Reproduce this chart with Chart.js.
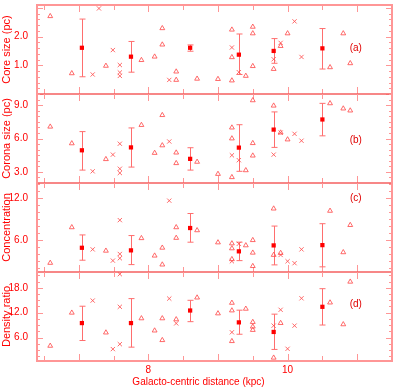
<!DOCTYPE html>
<html>
<head>
<meta charset="utf-8">
<script src="https://cdn.jsdelivr.net/npm/chart.js@4.4.0/dist/chart.umd.min.js"></script>
<style>
html, body { margin: 0; padding: 0; background: #fff; }
</style>
</head>
<body>
<canvas id="plot" width="397" height="389"></canvas>
<script>
// x axis
const xTicks = [8, 10];

// (a) core size (pc)
const coreTicks = [1.0, 2.0];
const coreTriX = [6.59, 6.90, 7.39, 7.90, 8.09, 8.20, 8.20, 8.40, 8.40, 8.70, 9.00, 9.20, 9.20, 9.20, 9.40, 9.50, 9.50, 9.50, 9.80, 9.90, 10.00, 10.61, 10.80, 10.90];
const coreTriY = [2.71, 0.72, 0.98, 1.18, 1.30, 2.29, 1.72, 0.78, 0.49, 0.53, 0.52, 2.24, 1.28, 0.47, 0.63, 2.34, 2.11, 0.97, 0.87, 1.67, 2.11, 0.93, 2.11, 1.07];
const coreCrossX = [7.20, 7.29, 7.49, 7.59, 7.59, 7.59, 8.30, 9.20, 9.30, 9.80, 9.90, 10.10, 10.20];
const coreCrossY = [0.68, 2.98, 1.53, 1.01, 0.75, 0.63, 0.49, 1.62, 0.76, 1.21, 1.78, 2.53, 1.29];
const coreErrX = [7.045, 7.75, 8.60, 9.30, 9.80, 10.50];
const coreErrY = [1.61, 1.30, 1.61, 1.37, 1.50, 1.59];
const coreErrLo = [0.60, 0.76, 1.49, 0.68, 1.07, 0.87];
const coreErrHi = [2.61, 1.83, 1.71, 2.09, 1.93, 2.28];

// (b) corona size (pc)
const coronaTicks = [3.0, 6.0, 9.0];
const coronaTriX = [6.59, 6.90, 7.39, 7.90, 8.09, 8.20, 8.20, 8.40, 8.40, 8.70, 9.00, 9.20, 9.20, 9.20, 9.40, 9.50, 9.50, 9.50, 9.80, 9.90, 10.00, 10.61, 10.80, 10.90];
const coronaTriY = [7.06, 5.56, 4.14, 7.21, 4.70, 8.10, 5.38, 4.73, 3.78, 3.90, 2.81, 6.98, 6.00, 2.52, 3.14, 9.43, 5.58, 4.46, 8.95, 6.53, 5.91, 9.16, 8.69, 8.51];
const coronaCrossX = [7.20, 7.49, 7.59, 7.59, 7.59, 8.30, 9.20, 9.30, 9.80, 9.90, 10.10, 10.20];
const coronaCrossY = [3.05, 4.55, 5.53, 3.28, 2.90, 5.73, 4.49, 4.05, 4.55, 6.53, 6.42, 5.80];
const coronaErrX = [7.045, 7.75, 8.60, 9.30, 9.80, 10.50];
const coronaErrY = [4.94, 5.20, 4.17, 5.18, 6.80, 7.71];
const coronaErrLo = [3.16, 3.43, 3.16, 3.05, 5.20, 6.24];
const coronaErrHi = [6.62, 6.95, 5.17, 7.24, 8.39, 9.16];

// (c) concentration
const concTicks = [6.0, 12.0];
const concTriX = [6.59, 6.90, 7.39, 7.90, 8.09, 8.20, 8.20, 8.40, 8.40, 8.70, 9.00, 9.20, 9.20, 9.20, 9.40, 9.50, 9.50, 9.50, 9.80, 9.80, 9.90, 10.61, 10.80, 10.90];
const concTriY = [2.70, 7.80, 4.44, 6.24, 3.74, 4.87, 2.46, 7.80, 6.28, 7.37, 5.63, 5.49, 4.78, 3.23, 5.21, 5.96, 4.16, 2.24, 10.48, 3.84, 4.12, 10.16, 4.22, 8.12];
const concCrossX = [7.20, 7.49, 7.59, 7.59, 7.59, 8.30, 9.20, 9.30, 9.90, 10.00, 10.10, 10.20];
const concCrossY = [4.64, 3.03, 8.83, 3.98, 3.37, 11.62, 2.94, 5.44, 3.84, 2.94, 2.66, 4.64];
const concErrX = [7.045, 7.75, 8.60, 9.30, 9.80, 10.50];
const concErrY = [4.87, 4.50, 7.70, 4.36, 5.21, 5.25];
const concErrLo = [3.09, 2.46, 5.67, 3.03, 2.42, 2.14];
const concErrHi = [6.71, 6.62, 9.78, 5.67, 7.98, 8.32];

// (d) density ratio
const densTicks = [6.0, 12.0, 18.0];
const densTriX = [6.59, 6.90, 7.39, 7.90, 8.09, 8.20, 8.20, 8.40, 8.70, 9.00, 9.20, 9.20, 9.20, 9.40, 9.50, 9.50, 9.50, 9.80, 9.90, 10.61, 10.80, 10.90];
const densTriY = [4.00, 11.98, 7.20, 10.62, 7.68, 10.62, 5.37, 10.38, 15.63, 11.81, 14.36, 12.52, 5.13, 12.93, 9.74, 8.63, 7.82, 1.14, 9.49, 14.43, 9.18, 19.45];
const densCrossX = [7.20, 7.49, 7.59, 7.59, 7.59, 8.30, 8.40, 9.20, 9.80, 9.90, 10.00, 10.10, 10.20];
const densCrossY = [14.91, 3.22, 21.28, 13.41, 4.41, 15.39, 9.42, 7.27, 8.87, 12.69, 3.29, 8.87, 15.46];
const densErrX = [7.045, 7.75, 8.60, 9.30, 9.80, 10.50];
const densErrY = [9.49, 9.49, 12.52, 9.66, 7.35, 13.41];
const densErrLo = [5.29, 3.69, 9.83, 6.80, 3.14, 9.02];
const densErrHi = [13.55, 15.39, 14.98, 12.60, 11.64, 17.78];

const red = '#ff0000';
const markColor = 'rgba(255,80,80,0.85)';
const barColor = 'rgb(255,110,110)';
const frameColor = 'rgb(255,150,150)';
const fontFam = '"Liberation Sans", Arial, Helvetica, sans-serif';

function pts(xs, ys) {
    return xs.map((x, i) => ({ x: x, y: ys[i] }));
}

// one entry per stacked panel, top to bottom
const panels = [
    { id: 'yCore', title: 'Core size (pc)', tag: '(a)', min: 0, max: 3.1, ticks: coreTicks, minor: 0.2, major: 1,
      tri: pts(coreTriX, coreTriY), cross: pts(coreCrossX, coreCrossY), err: pts(coreErrX, coreErrY), lo: coreErrLo, hi: coreErrHi, tagY: 1.6 },
    { id: 'yCorona', title: 'Corona size (pc)', tag: '(b)', min: 2, max: 10, ticks: coronaTicks, minor: 0.5, major: 3,
      tri: pts(coronaTriX, coronaTriY), cross: pts(coronaCrossX, coronaCrossY), err: pts(coronaErrX, coronaErrY), lo: coronaErrLo, hi: coronaErrHi, tagY: 5.8 },
    { id: 'yConc', title: 'Concentration', tag: '(c)', min: 1.4, max: 14.15, ticks: concTicks, minor: 1, major: 6,
      tri: pts(concTriX, concTriY), cross: pts(concCrossX, concCrossY), err: pts(concErrX, concErrY), lo: concErrLo, hi: concErrHi, tagY: 11.9 },
    { id: 'yDens', title: 'Density ratio', tag: '(d)', min: 0.35, max: 21.8, ticks: densTicks, minor: 1.5, major: 6,
      tri: pts(densTriX, densTriY), cross: pts(densCrossX, densCrossY), err: pts(densErrX, densErrY), lo: densErrLo, hi: densErrHi, tagY: 13.95 }
];

const datasets = [];
panels.forEach(p => {
    datasets.push({ data: p.tri, yAxisID: p.id, pointStyle: 'triangle', pointRadius: 2.8,
        borderColor: markColor, backgroundColor: 'rgba(0,0,0,0)', pointBorderWidth: 1 });
    datasets.push({ data: p.cross, yAxisID: p.id, pointStyle: 'crossRot', pointRadius: 3,
        borderColor: markColor, backgroundColor: markColor, pointBorderWidth: 1 });
    datasets.push({ data: p.err, yAxisID: p.id, pointStyle: 'rect', pointRadius: 3,
        borderColor: red, backgroundColor: red, pointBorderWidth: 0 });
});

const scales = {
    x: {
        type: 'linear', position: 'bottom', min: 6.4, max: 11.5,
        grid: { display: false, drawTicks: false }, border: { display: false },
        afterBuildTicks: s => { s.ticks = xTicks.map(v => ({ value: v })); },
        afterFit: s => { s.height = 28; s.paddingLeft = 0; s.paddingRight = 0; },
        ticks: { color: red, padding: 3, font: { family: fontFam, size: 10 }, callback: v => String(v) }
    }
};
panels.forEach((p, i) => {
    scales[p.id] = {
        type: 'linear', position: 'left', stack: 'panels', stackWeight: 1, weight: 4 - i,
        min: p.min, max: p.max,
        grid: { display: false, drawTicks: false }, border: { display: false },
        afterBuildTicks: s => { s.ticks = p.ticks.map(v => ({ value: v })); },
        afterFit: s => { s.width = 37; s.paddingTop = 0; s.paddingBottom = 0; },
        ticks: { color: red, padding: 9, font: { family: fontFam, size: 10 }, callback: v => v.toFixed(1) },
        title: { display: true, text: p.title, color: red, padding: { top: 0, bottom: 0 },
            font: { family: fontFam, size: 11 } }
    };
});

// frame, inward ticks, error bars and panel tags
const decor = {
    id: 'decor',
    beforeDatasetsDraw(chart) {
        const { ctx, chartArea: a } = chart;
        const xs = chart.scales.x;
        ctx.save();
        panels.forEach(p => {
            const s = chart.scales[p.id];
            ctx.strokeStyle = frameColor;
            ctx.lineWidth = 1;
            ctx.beginPath();
            for (let v = 6.5; v < 11.5; v += 0.5) {
                const px = Math.round(xs.getPixelForValue(v)) + 0.5;
                const len = Number.isInteger(v) ? 7 : 5;
                ctx.moveTo(px, s.top); ctx.lineTo(px, s.top + len);
                ctx.moveTo(px, s.bottom); ctx.lineTo(px, s.bottom - len);
            }
            const start = Math.ceil(p.min / p.minor) * p.minor;
            for (let v = start; v <= p.max + 1e-9; v += p.minor) {
                const py = Math.round(s.getPixelForValue(v)) + 0.5;
                const isMajor = Math.abs(v / p.major - Math.round(v / p.major)) < 1e-6;
                const len = isMajor ? 6 : 3;
                ctx.moveTo(a.left, py); ctx.lineTo(a.left + len, py);
                ctx.moveTo(a.right, py); ctx.lineTo(a.right - len, py);
            }
            ctx.stroke();

            // panel separators
            ctx.strokeStyle = 'rgb(245,95,95)';
            ctx.lineWidth = 1.5;
            ctx.beginPath();
            ctx.moveTo(a.left, s.bottom); ctx.lineTo(a.right, s.bottom);
            ctx.stroke();

            // error bars
            ctx.strokeStyle = barColor;
            ctx.lineWidth = 1;
            ctx.beginPath();
            p.err.forEach((pt, i) => {
                const px = Math.round(xs.getPixelForValue(pt.x)) + 0.5;
                const y1 = s.getPixelForValue(p.lo[i]);
                const y2 = s.getPixelForValue(p.hi[i]);
                ctx.moveTo(px, y1); ctx.lineTo(px, y2);
                ctx.moveTo(px - 3, y1); ctx.lineTo(px + 3, y1);
                ctx.moveTo(px - 3, y2); ctx.lineTo(px + 3, y2);
            });
            ctx.stroke();

            // panel tag
            ctx.fillStyle = '#e00000';
            ctx.font = '10px ' + fontFam;
            ctx.textAlign = 'center';
            ctx.textBaseline = 'middle';
            ctx.fillText(p.tag, xs.getPixelForValue(10.98), s.getPixelForValue(p.tagY));
        });

        // outer frame
        ctx.strokeStyle = frameColor;
        ctx.lineWidth = 2;
        ctx.strokeRect(a.left, a.top, a.right - a.left, a.bottom - a.top);

        // x axis title, centred on the page
        ctx.fillStyle = red;
        ctx.font = '10px ' + fontFam;
        ctx.textAlign = 'center';
        ctx.textBaseline = 'middle';
        ctx.fillText('Galacto-centric distance (kpc)', chart.width / 2, 382);
        ctx.restore();
    }
};

new Chart(document.getElementById('plot').getContext('2d'), {
    type: 'scatter',
    data: { datasets: datasets },
    options: {
        responsive: false,
        animation: false,
        events: [],
        layout: { padding: { top: 1, right: 1, left: 0, bottom: 0 } },
        plugins: { legend: { display: false }, tooltip: { enabled: false } },
        scales: scales
    },
    plugins: [decor]
});
</script>
</body>
</html>
